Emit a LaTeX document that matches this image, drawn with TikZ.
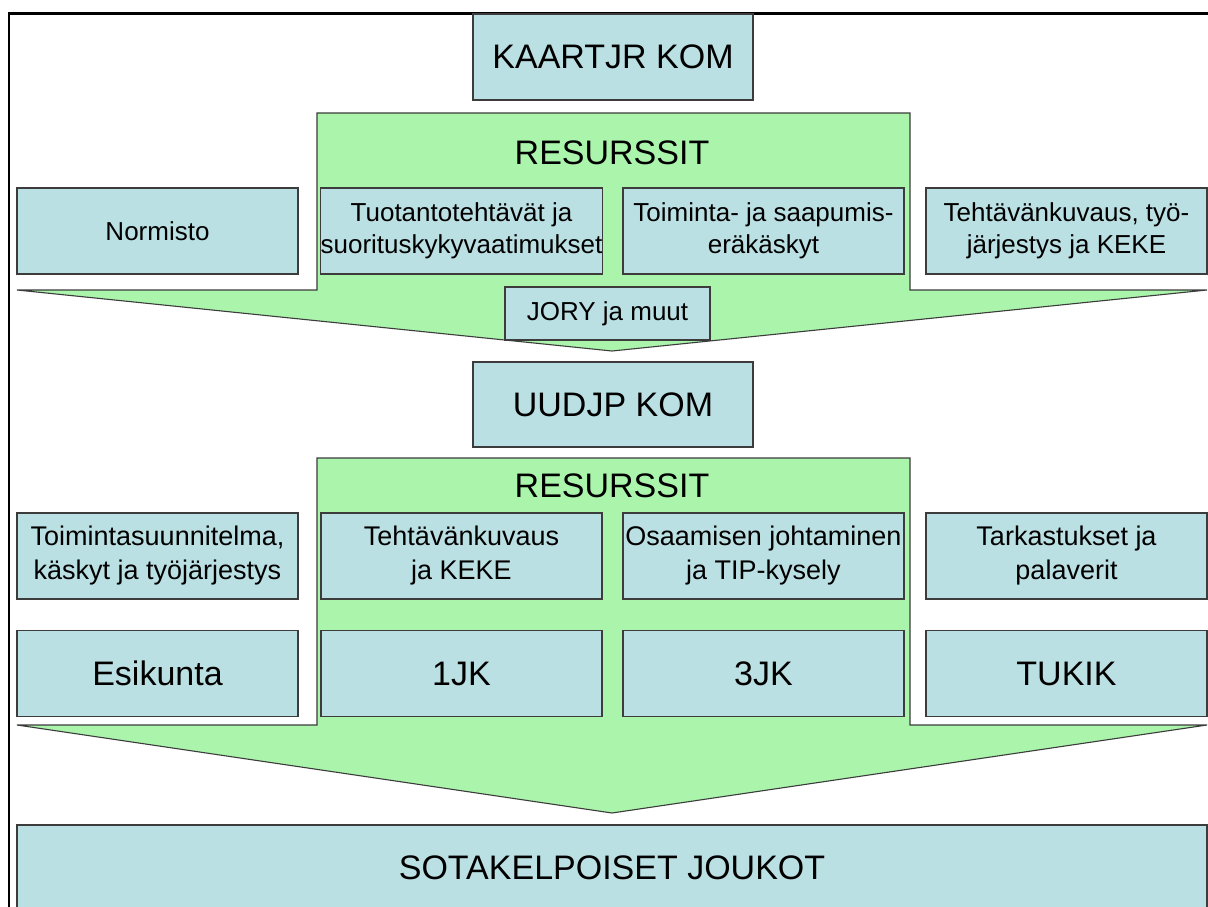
\documentclass[tikz,border=0pt]{standalone}
\usepackage{fontspec}
\setmainfont{Liberation Sans}
\definecolor{boxblue}{HTML}{BBE0E3}
\definecolor{arrowgreen}{HTML}{AAF5AB}
\definecolor{edgegray}{HTML}{3C3C3C}
\tikzset{
  bx/.style={draw=edgegray, line width=1.1pt, fill=boxblue, minimum width=281pt, minimum height=86pt, inner sep=0pt, align=center, font=\fontsize{26}{32}\selectfont},
  bxb/.style={bx, font=\fontsize{27}{34}\selectfont},
  bigbx/.style={bx, font=\fontsize{34}{40}\selectfont},
  greenarrow/.style={draw=edgegray, line width=1.1pt, fill=arrowgreen, line join=miter},
  heading/.style={inner sep=0pt, font=\fontsize{34}{40}\selectfont}
}
\begin{document}
\begin{tikzpicture}[x=1pt,y=-1pt]
\useasboundingbox (0,0) rectangle (1208,906);
\clip (0,0) rectangle (1208,906);
\fill[white] (0,0) rectangle (1208,906);
% frame
\draw[line width=2.5pt] (9,960) -- (9,13.5) -- (1250,13.5);
% top box
\node[bigbx, minimum width=280pt] (kaart) at (613,57) {KAARTJR KOM};
% green arrow 1
\draw[greenarrow] (317,113) -- (910,113) -- (910,290) -- (1207,290) -- (612,351) -- (17,290) -- (317,290) -- cycle;
\node[heading] (res1) at (612,153) {RESURSSIT};
\node[bx] (normisto) at (157.5,231) {Normisto};
\node[bx] (tuotanto) at (461.5,231) {Tuotantotehtävät ja\\suorituskykyvaatimukset};
\node[bx] (toiminta) at (763.5,231) {Toiminta- ja saapumis-\\eräkäskyt};
\node[bx] (tehtava1) at (1066.5,231) {Tehtävänkuvaus, työ-\\järjestys ja KEKE};
\node[bx, minimum width=205pt, minimum height=53pt] (jory) at (607.5,313.5) {JORY ja muut};
% middle box
\node[bigbx, minimum width=280pt, minimum height=85pt] (uudjp) at (613,404.5) {UUDJP KOM};
% green arrow 2
\draw[greenarrow] (317,458) -- (910,458) -- (910,725) -- (1207,725) -- (612,813) -- (17,725) -- (317,725) -- cycle;
\node[heading] (res2) at (612,486) {RESURSSIT};
\node[bxb] (suunn) at (157.5,556) {Toimintasuunnitelma,\\käskyt ja työjärjestys};
\node[bxb] (tehtava2) at (461.5,556) {Tehtävänkuvaus\\ja KEKE};
\node[bxb] (osaam) at (763.5,556) {Osaamisen johtaminen\\ja TIP-kysely};
\node[bxb] (tark) at (1066.5,556) {Tarkastukset ja\\palaverit};
\node[bigbx] (esik) at (157.5,673.5) {Esikunta};
\node[bigbx] (jk1) at (461.5,673.5) {1JK};
\node[bigbx] (jk3) at (763.5,673.5) {3JK};
\node[bigbx] (tukik) at (1066.5,673.5) {TUKIK};
% bottom box
\draw[draw=edgegray, line width=1.1pt, fill=boxblue] (17,825) rectangle (1207,960);
\node[heading] (sota) at (612,868) {SOTAKELPOISET JOUKOT};
\end{tikzpicture}
\end{document}
